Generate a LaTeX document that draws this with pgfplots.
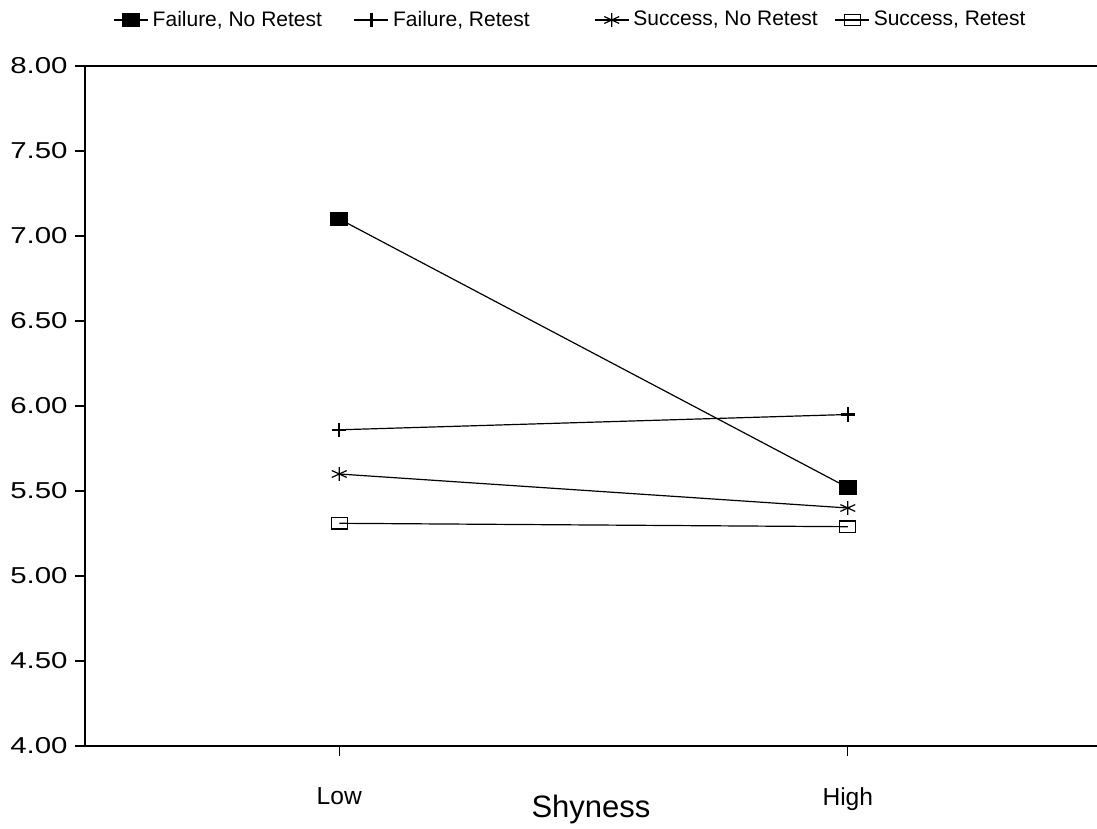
\documentclass[border=0pt]{standalone}
\usepackage{fontspec}
\setmainfont{Liberation Sans}
\usepackage{graphicx}
\usepackage{pgfplots}
\pgfplotsset{compat=1.18}
\begin{document}
\begin{tikzpicture}
\begin{axis}[
  at={(0,0)}, anchor=south west,
  scale only axis, width=506pt, height=340pt,
  xmin=-0.5, xmax=1.49, ymin=4, ymax=8,
  axis x line*=bottom, axis y line*=left,
  axis line style={-, line width=0.75pt},
  tick align=outside, major tick length=5pt,
  tick style={line width=0.6pt, black},
  xtick={0,1}, xticklabels={Low,High},
  ytick={4,4.5,5,5.5,6,6.5,7,7.5,8},
  yticklabel={\scalebox{1.28}[1]{\pgfmathprintnumber[fixed,fixed zerofill,precision=2,assume math mode=true]{\tick}}},
  yticklabel style={font=\fontsize{11.5}{13}\selectfont, inner sep=0pt, xshift=-3.5pt},
  xticklabel style={font=\fontsize{12.3}{14}\selectfont, inner sep=0pt, anchor=north, yshift=-15.5pt},
  xlabel={Shyness},
  xlabel style={font=\fontsize{15.5}{18}\selectfont, at={(axis description cs:0.5,0)}, anchor=base, yshift=-35.5pt},
  legend columns=4,
  legend cell align=left,
  legend style={draw=none, fill=none, at={(axis description cs:0,1)}, anchor=west, xshift=14pt, yshift=23pt, font=\fontsize{10.5}{12}\selectfont, inner sep=0pt, column sep=0pt},
]
\addplot[black, line width=0.6pt, mark=square*, mark size=4.2pt, mark options={solid, yscale=0.78, fill=black}] coordinates {(0,7.10) (1,5.52)};
\addlegendentry{\makebox[98.5pt][l]{Failure, No Retest}}
\addplot[black, line width=0.6pt, mark=+, mark size=3.6pt, mark options={solid, line width=1.2pt}] coordinates {(0,5.86) (1,5.95)};
\addlegendentry{\makebox[98.5pt][l]{Failure, Retest}}
\addplot[black, line width=0.6pt, mark=asterisk, mark size=4.3pt, mark options={solid, yscale=0.8, line width=0.6pt}] coordinates {(0,5.60) (1,5.40)};
\addlegendentry{\makebox[98.5pt][l]{Success, No Retest}}
\addplot[black, line width=0.6pt, mark=square, mark size=4pt, mark options={solid, yscale=0.72, line width=0.6pt}] coordinates {(0,5.31) (1,5.29)};
\addlegendentry{\makebox[98.5pt][l]{Success, Retest}}
\draw[line width=0.75pt] (rel axis cs:0,1) -- (rel axis cs:1,1);
\end{axis}
\pgfresetboundingbox
\path[use as bounding box] (-42.5pt,-41.5pt) rectangle (506pt,373pt);
\end{tikzpicture}
\end{document}
